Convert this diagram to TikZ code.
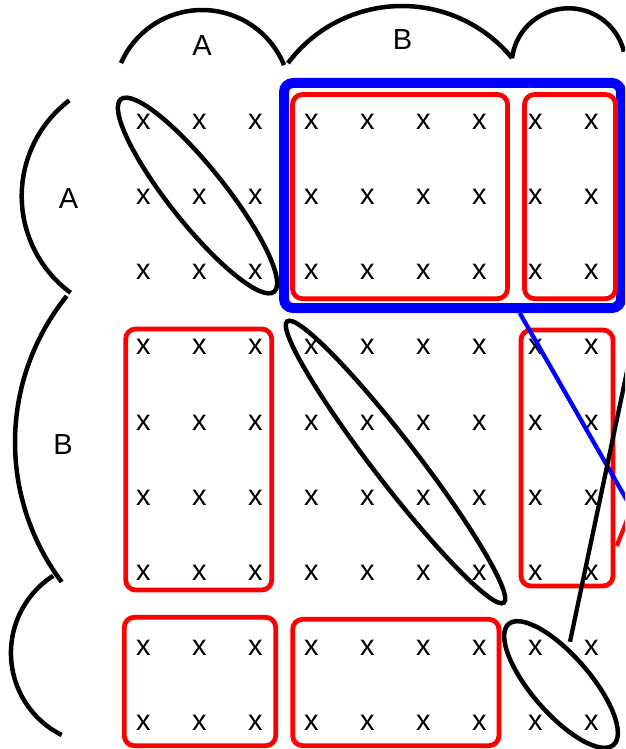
\documentclass[tikz,border=0pt]{standalone}
\usepackage{fontspec}
\setmainfont{Liberation Sans}
\usetikzlibrary{shapes.geometric}
\begin{document}
\begin{tikzpicture}[x=1pt,y=-1pt,
  xmark/.style={inner sep=0pt, font=\fontsize{29}{29}\selectfont},
  lbl/.style={inner sep=0pt, font=\fontsize{29}{29}\selectfont},
  redbox/.style={draw=red, line width=4.8pt, rounded corners=10pt, inner sep=0pt, rectangle},
  bluebox/.style={draw=blue, line width=10pt, rounded corners=9pt, inner sep=0pt, rectangle},
  ell/.style={draw=black, ellipse, line width=4.5pt, inner sep=0pt},
  arcline/.style={draw=black, line width=4.5pt},
  conn/.style={line width=4.3pt}
]
\useasboundingbox (0,0) rectangle (625,749);
\clip (0,0) rectangle (625,749);

% grid of x marks
\foreach \i in {0,...,8}
  \foreach \j in {0,...,8}
    \node[xmark] (x\i\j) at ({143.3+56*\i},{121.7+75.2*\j}) {x};

% labels
\node[lbl] (tA) at (202,45.5) {A};
\node[lbl] (tB) at (402.5,39.7) {B};
\node[lbl] (lA) at (68.5,198.8) {A};
\node[lbl] (lB) at (63,444.5) {B};

% top arcs
\draw[arcline] plot[domain=-156.4:-22.2, samples=60, variable=\t] ({202.1+88.5*cos(\t)},{98.5+88.5*sin(\t)});
\draw[arcline] plot[domain=-143.2:-39.4, samples=60, variable=\t] ({402+142.4*cos(\t)},{148.4+142.4*sin(\t)});
\draw[arcline] plot[domain=-172.9:-13.8, samples=60, variable=\t] ({568.6+57*cos(\t)},{65.3+57*sin(\t)});

% left arcs
\draw[arcline] plot[domain=232.9:126.3, samples=60, variable=\t] ({141.65+119.95*cos(\t)},{196.08+119.95*sin(\t)});
\draw[arcline] plot[domain=218.95:143.06, samples=60, variable=\t] ({247.57+232.57*cos(\t)},{442.21+232.57*sin(\t)});
\draw[arcline] plot[domain=237.46:116.5, samples=60, variable=\t] ({102.6+91.65*cos(\t)},{652.98+91.65*sin(\t)});

% blue box
\node[bluebox, minimum width=337pt, minimum height=225pt] (bb) at (452.5,195.5) {};

% red boxes
\node[redbox, minimum width=215pt, minimum height=204.2pt] (r1) at (400,196.6) {};
\node[redbox, minimum width=91pt, minimum height=204.2pt] (r2) at (570,196.6) {};
\node[redbox, minimum width=146pt, minimum height=261pt] (r3) at (198.7,459.5) {};
\node[redbox, minimum width=92pt, minimum height=256pt] (r4) at (567,458) {};
\node[redbox, minimum width=151.4pt, minimum height=128.4pt] (r5) at (200,681.5) {};
\node[redbox, minimum width=206.3pt, minimum height=126.4pt] (r6) at (395.8,682.5) {};

% ellipses
\node[ell, minimum width=246pt, minimum height=56pt, rotate=-51.5] (e1) at (197.5,195.5) {};
\node[ell, minimum width=355pt, minimum height=44pt, rotate=-52.4] (e2) at (395.5,462) {};
\node[ell, minimum width=160pt, minimum height=58pt, rotate=-49] (e3) at (561,684.5) {};

% connectors leaving the picture
\coordinate (bfar) at (658.5,555.5);
\coordinate (kfar) at (645.5,283.5);
\coordinate (rnear) at (616.7,546);
\coordinate (rfar) at (633.3,504.6);
\draw[conn, blue] (bb) -- (bfar);
\draw[conn, black, shorten <=6pt] (e3) -- (kfar);
\draw[conn, red] (rnear) -- (rfar);
\end{tikzpicture}
\end{document}
